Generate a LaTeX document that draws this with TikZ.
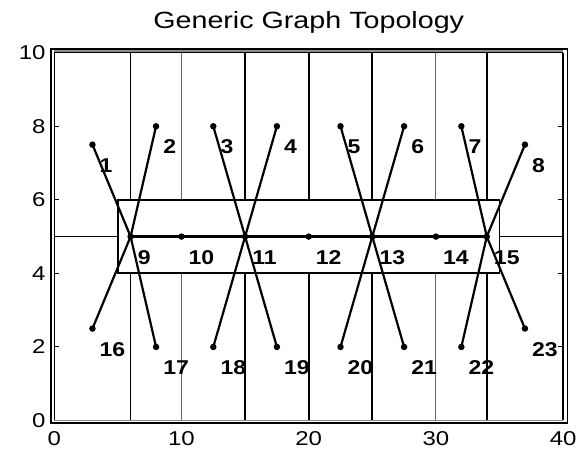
\documentclass[tikz,border=0pt]{standalone}
\usepackage{fontspec}
\setmainfont{Liberation Sans}
\begin{document}
\begin{tikzpicture}[x=12.72pt,y=36.78pt,
  dot/.style={circle,fill=black,inner sep=0pt,minimum size=6.5pt},
  edge/.style={line width=2.2pt},
  spine/.style={line width=2.9pt},
  gridln/.style={line width=1.7pt},
  midln/.style={line width=2.1pt},
  lgridln/.style={line width=1.1pt,black!60},
  lbl/.style={anchor=base west,inner sep=0pt,font=\fontsize{20}{24}\selectfont\bfseries},
  ticklbl/.style={inner sep=0pt,font=\fontsize{20}{24}\selectfont}]
\useasboundingbox (-4.269,-0.775) rectangle (41.565,11.433);
% title
\node[anchor=base,inner sep=0pt,font=\fontsize{23.5}{28}\selectfont] (title) at (20,10.663) {\scalebox{1.22}[1]{Generic Graph Topology}};
% grid lines
\foreach \gx in {6,15,25,34} \draw[gridln] (\gx,0) -- (\gx,10);
\draw[midln] (20,0) -- (20,10);
\foreach \gx in {10,30} \draw[lgridln] (\gx,0) -- (\gx,10);
\draw[gridln] (0,5) -- (40,5);
% frame
\fill[black!45] (0,10) rectangle (40,10.1);
\draw[line width=1.6pt] (-0.28,-0.076) rectangle (40.36,10.1);
\draw[line width=1.6pt] (0,10) -- (40,10);
\draw[line width=1.6pt] (0,0) -- (0,10);
\draw[line width=1.6pt] (40,0) -- (40,10);
\draw[line width=1.2pt,black!45] (0,0) -- (40,0);
\foreach \ty in {2,4,6,8} {
  \draw[line width=1pt] (0,\ty) -- (0.4,\ty);
  \draw[line width=1pt] (40,\ty) -- (39.6,\ty);
}
% tick labels
\foreach \tx in {0,10,20,30,40}
  \node[ticklbl,anchor=base] (tx\tx) at (\tx,-0.69) {\scalebox{1.2}[1]{\tx}};
\foreach \ty in {0,2,4,6,8,10}
  \node[ticklbl,anchor=east] (ty\ty) at (-0.67,\ty) {\scalebox{1.2}[1]{\ty}};
% box
\draw[line width=1.9pt,fill=white] (5,4) rectangle (35,6);
% nodes
\foreach \n/\px/\py in {1/3/7.5,2/8/8,3/12.5/8,4/17.5/8,5/22.5/8,6/27.5/8,7/32/8,8/37/7.5,
  9/6/5,10/10/5,11/15/5,12/20/5,13/25/5,14/30/5,15/34/5,
  16/3/2.5,17/8/2,18/12.5/2,19/17.5/2,20/22.5/2,21/27.5/2,22/32/2,23/37/2.5}
  \coordinate (n\n) at (\px,\py);
% edges
\draw[spine] (n9) -- (n10) -- (n11) -- (n12) -- (n13) -- (n14) -- (n15);
\draw[edge] (n1) -- (n9) -- (n17);
\draw[edge] (n2) -- (n9) -- (n16);
\draw[edge] (n3) -- (n11) -- (n19);
\draw[edge] (n4) -- (n11) -- (n18);
\draw[edge] (n5) -- (n13) -- (n21);
\draw[edge] (n6) -- (n13) -- (n20);
\draw[edge] (n7) -- (n15) -- (n23);
\draw[edge] (n8) -- (n15) -- (n22);
% dots and labels
\foreach \n in {1,...,23} {
  \node[dot] (d\n) at (n\n) {};
  \node[lbl] (l\n) at ([shift={(7pt,-27.7pt)}]n\n) {\scalebox{1.15}[1]{\n}};
}
\end{tikzpicture}
\end{document}
